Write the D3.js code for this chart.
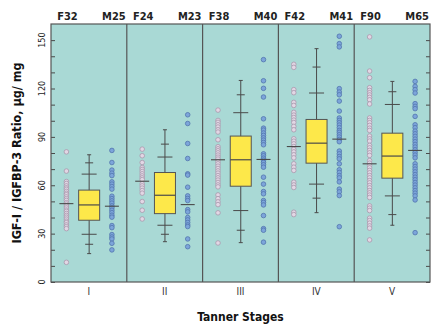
<!DOCTYPE html>
<html>
<head>
<meta charset="utf-8">
<script src="https://cdn.jsdelivr.net/npm/d3@7"></script>
<style>
  html, body { margin: 0; padding: 0; background: #fff; }
  svg { display: block; }
  text { font-family: "Liberation Sans Narrow", "DejaVu Sans Condensed", "Arial Narrow", sans-serif; }
</style>
</head>
<body>
<svg id="chart" width="445" height="329"></svg>
<script>
// Tanner stages and group labels
const stages = ['I', 'II', 'III', 'IV', 'V'];
const femaleLabels = ['F32', 'F24', 'F38', 'F42', 'F90'];
const maleLabels = ['M25', 'M23', 'M40', 'M41', 'M65'];

// individual ratios (overlapping dots are lost)
const femaleVals = [
  [80.7, 68.8, 62.3, 61.1, 59.6, 58.4, 57.5, 56.2, 55.0, 54.1, 52.8, 51.7, 50.6, 49.2, 48.3, 47.1, 45.9, 44.6, 43.8, 42.5, 41.3, 40.2, 39.0, 37.7, 36.8, 35.4, 34.3, 33.1, 12.2],
  [82.4, 78.3, 74.1, 71.0, 69.8, 68.5, 67.1, 65.8, 64.6, 63.5, 60.9, 59.6, 58.2, 56.7, 55.1, 49.9, 44.5, 39.1],
  [106.6, 100.2, 99.0, 97.5, 96.1, 94.4, 93.0, 88.2, 83.9, 82.6, 81.4, 80.1, 78.7, 77.4, 76.2, 74.7, 73.3, 71.8, 70.4, 68.9, 67.5, 66.0, 64.6, 63.2, 61.7, 60.2, 59.0, 54.0, 51.7, 49.7, 48.0, 42.9, 24.2],
  [135.0, 133.1, 119.3, 117.4, 111.4, 109.5, 105.2, 103.5, 102.0, 100.4, 98.9, 96.5, 94.4, 88.8, 87.3, 85.7, 84.0, 82.2, 80.7, 78.9, 77.0, 73.3, 71.2, 69.2, 61.9, 60.2, 58.6, 43.3, 41.8],
  [152.0, 130.8, 126.7, 120.5, 118.8, 117.4, 116.0, 114.5, 113.0, 110.4, 101.7, 100.2, 98.8, 97.1, 95.4, 94.0, 90.5, 88.8, 87.4, 84.7, 83.2, 81.6, 80.1, 78.5, 75.3, 73.7, 72.2, 70.8, 69.2, 67.7, 66.0, 64.6, 62.9, 61.5, 59.8, 58.4, 56.7, 55.3, 53.9, 52.4, 47.2, 45.8, 44.3, 39.6, 38.1, 36.5, 34.8, 33.4, 26.1]
];
const maleVals = [
  [81.6, 74.1, 69.4, 67.5, 66.0, 62.1, 60.7, 59.2, 57.6, 53.2, 51.7, 50.3, 48.9, 47.2, 46.0, 44.5, 43.0, 41.4, 40.2, 35.0, 33.7, 29.4, 27.9, 26.7, 24.0, 19.9],
  [103.7, 98.3, 85.9, 76.6, 67.1, 66.3, 58.8, 53.4, 51.8, 50.5, 44.9, 43.5, 40.0, 38.5, 36.9, 35.4, 34.4, 26.7, 21.9],
  [137.9, 124.8, 120.1, 114.7, 101.2, 95.4, 94.2, 92.4, 90.9, 89.4, 88.0, 86.5, 85.1, 79.5, 78.3, 76.8, 75.6, 74.1, 72.7, 71.2, 65.0, 60.7, 56.1, 54.7, 50.5, 49.3, 47.8, 41.2, 33.1, 32.1, 24.7],
  [152.4, 147.8, 145.8, 119.9, 117.8, 116.1, 112.2, 106.0, 101.7, 100.2, 98.8, 97.3, 95.7, 94.0, 92.8, 91.3, 89.9, 88.4, 87.0, 81.2, 79.5, 77.8, 76.4, 73.3, 69.6, 67.9, 66.0, 64.6, 62.1, 57.6, 55.9, 53.6, 34.3],
  [124.4, 121.3, 119.3, 117.2, 110.6, 108.9, 107.5, 102.7, 97.5, 95.7, 93.6, 91.9, 90.3, 88.6, 87.0, 85.3, 83.7, 82.0, 80.3, 78.7, 77.0, 73.3, 71.6, 70.0, 68.3, 66.6, 65.0, 63.4, 61.7, 60.1, 58.4, 56.7, 55.1, 53.4, 50.9, 30.6]
];
const femaleMean = [48.6, 62.5, 75.8, 84.0, 73.3];
const maleMean = [47.0, 48.0, 76.0, 88.6, 81.6];

// pooled box plot per stage
const whiskerLo = [17.6, 25.0, 24.4, 43.0, 35.2];
const shortTickLo = [23.4, 29.6, 32.1, 52.0, 41.8];
const longTickLo = [29.6, 35.2, 44.3, 60.7, 53.4];
const q1 = [38.3, 42.4, 59.4, 73.7, 64.4];
const median = [47.8, 53.8, 75.8, 86.1, 78.1];
const q3 = [57.0, 67.9, 90.5, 100.8, 92.3];
const longTickHi = [66.9, 77.5, 105.0, 117.2, 110.1];
const shortTickHi = [73.9, 85.5, 116.1, 133.3, 118.0];
const whiskerHi = [78.9, 94.4, 125.0, 144.7, 124.4];

const yTicks = [0, 30, 60, 90, 120, 150];

const svg = d3.select('#chart');
const plotLeft = 51, plotRight = 430, plotTop = 24, plotBottom = 282;

const x = d3.scaleBand().domain(stages).range([plotLeft, plotRight]);
const offset = d3.scalePoint().domain(['F', 'box', 'M']).range([-22.5, 23]);
const y = d3.scaleLinear().domain([0, 160]).range([plotBottom, plotTop]);

const bg = '#a9d9d5';
const ink = '#4a4a4a';

// plot background
svg.append('rect')
  .attr('x', plotLeft).attr('y', plotTop)
  .attr('width', plotRight - plotLeft).attr('height', plotBottom - plotTop)
  .attr('fill', bg);

// panel dividers
svg.append('g').selectAll('line')
  .data(stages.slice(1))
  .join('line')
  .attr('x1', d => x(d)).attr('x2', d => x(d))
  .attr('y1', plotTop).attr('y2', plotBottom)
  .attr('stroke', '#555').attr('stroke-width', 1.2);

// left and right axes: ticks pointing into the plot
const leftAxis = svg.append('g')
  .attr('transform', `translate(${plotLeft},0)`)
  .call(d3.axisRight(y).tickValues(d3.range(0, 160, 10)).tickSize(4).tickFormat(''));
leftAxis.select('.domain').remove();
leftAxis.selectAll('line').attr('stroke', ink);

const rightAxis = svg.append('g')
  .attr('transform', `translate(${plotRight},0)`)
  .call(d3.axisLeft(y).tickValues(d3.range(0, 160, 10)).tickSize(4).tickFormat(''));
rightAxis.select('.domain').remove();
rightAxis.selectAll('line').attr('stroke', ink);

// rotated y tick labels
svg.append('g').selectAll('text')
  .data(yTicks)
  .join('text')
  .attr('transform', d => `translate(${plotLeft - 6},${y(d)}) rotate(-90)`)
  .attr('text-anchor', 'middle')
  .attr('font-size', 9)
  .attr('fill', '#222')
  .text(d => d);

// plot frame
svg.append('rect')
  .attr('x', plotLeft).attr('y', plotTop)
  .attr('width', plotRight - plotLeft).attr('height', plotBottom - plotTop)
  .attr('fill', 'none').attr('stroke', '#555').attr('stroke-width', 1.2);

const panels = svg.append('g').selectAll('g.panel')
  .data(stages)
  .join('g')
  .attr('class', 'panel')
  .attr('transform', d => `translate(${x(d) + x.bandwidth() / 2},0)`);

// whisker line, caps and tick marks
panels.each(function (d, i) {
  const g = d3.select(this);
  const cx = offset('box');
  const hline = (v, w) => g.append('line')
    .attr('x1', cx - w / 2).attr('x2', cx + w / 2)
    .attr('y1', y(v)).attr('y2', y(v))
    .attr('stroke', ink).attr('stroke-width', 1);
  g.append('line')
    .attr('x1', cx).attr('x2', cx)
    .attr('y1', y(whiskerLo[i])).attr('y2', y(whiskerHi[i]))
    .attr('stroke', ink).attr('stroke-width', 1);
  hline(whiskerLo[i], 4);
  hline(whiskerHi[i], 4);
  hline(shortTickLo[i], 8);
  hline(shortTickHi[i], 8);
  hline(longTickLo[i], 15);
  hline(longTickHi[i], 15);
  g.append('rect')
    .attr('x', cx - 10.5).attr('width', 21)
    .attr('y', y(q3[i])).attr('height', y(q1[i]) - y(q3[i]))
    .attr('fill', '#fde84a').attr('stroke', '#555').attr('stroke-width', 1);
  hline(median[i], 21).attr('stroke-width', 1.2);
});

// dots
const drawDots = (vals, key, fill, stroke) => {
  panels.each(function (d, i) {
    d3.select(this).append('g').selectAll('circle')
      .data(vals[i])
      .join('circle')
      .attr('cx', offset(key))
      .attr('cy', v => y(v))
      .attr('r', 2.3)
      .attr('fill', fill)
      .attr('stroke', stroke)
      .attr('stroke-width', 0.8);
  });
};
drawDots(femaleVals, 'F', '#e2d6e4', '#a898ac');
drawDots(maleVals, 'M', '#7ca5da', '#5275ad');

// group mean marks
const drawMean = (means, key) => {
  panels.append('line')
    .attr('x1', offset(key) - 7).attr('x2', offset(key) + 7)
    .attr('y1', (d, i) => y(means[i])).attr('y2', (d, i) => y(means[i]))
    .attr('stroke', ink).attr('stroke-width', 1.1);
};
drawMean(femaleMean, 'F');
drawMean(maleMean, 'M');

// group labels above the plot
panels.append('text')
  .attr('x', offset('F') + 1).attr('y', 20)
  .attr('text-anchor', 'middle')
  .attr('font-size', 11).attr('font-weight', 'bold').attr('fill', '#222')
  .text((d, i) => femaleLabels[i]);
panels.append('text')
  .attr('x', offset('M') + 2).attr('y', 20)
  .attr('text-anchor', 'middle')
  .attr('font-size', 11).attr('font-weight', 'bold').attr('fill', '#222')
  .text((d, i) => maleLabels[i]);

// stage labels
panels.append('text')
  .attr('x', 0).attr('y', 295)
  .attr('text-anchor', 'middle')
  .attr('font-size', 10).attr('fill', '#333')
  .text(d => d);

// axis titles
svg.append('text')
  .attr('x', (plotLeft + plotRight) / 2).attr('y', 321)
  .attr('text-anchor', 'middle')
  .attr('font-size', 12).attr('font-weight', 'bold').attr('fill', '#111')
  .text('Tanner Stages');

svg.append('text')
  .attr('transform', `translate(21,${(plotTop + plotBottom) / 2}) rotate(-90)`)
  .attr('text-anchor', 'middle')
  .attr('font-size', 12.5).attr('font-weight', 'bold').attr('fill', '#111')
  .text('IGF-I / IGFBP-3 Ratio, μg/ mg');
</script>
</body>
</html>
